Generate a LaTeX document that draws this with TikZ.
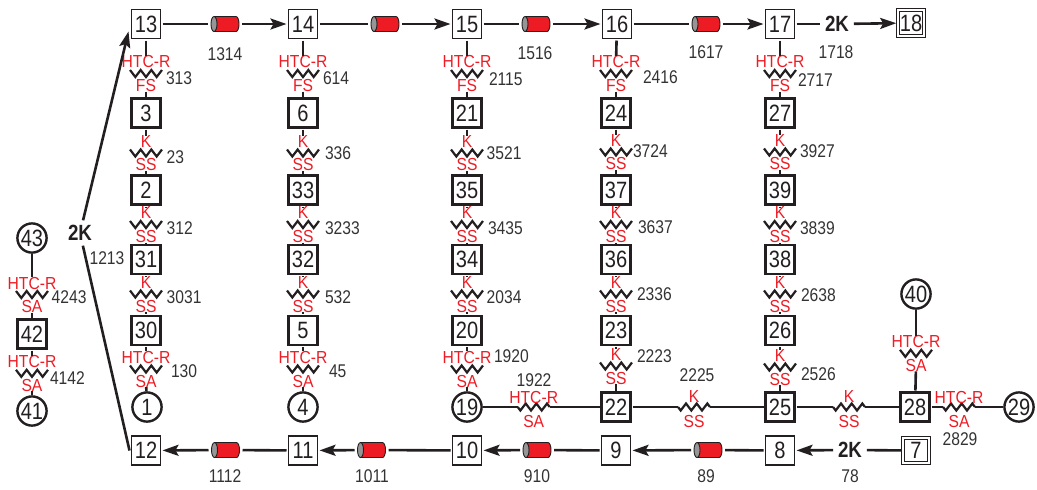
\documentclass[tikz,border=0pt]{standalone}
\usepackage{fontspec}
\setmainfont{Liberation Sans}[FakeStretch=0.85]
\newfontfamily\rlfont{Liberation Sans}[FakeStretch=0.9]
\usetikzlibrary{arrows.meta}
\definecolor{cred}{RGB}{237,28,36}
\definecolor{cdark}{RGB}{35,31,32}
\definecolor{cnum}{RGB}{51,51,51}
\definecolor{ccap}{RGB}{150,150,150}
\tikzset{
  every node/.style={inner sep=0pt, outer sep=0pt, text=cdark},
  tbox/.style={draw=cdark, line width=0.65pt, minimum size=14.5pt, font=\fontsize{11.8}{12}\selectfont, outer sep=1pt},
  kbox/.style={tbox, line width=1.4pt},
  dbox/.style={draw=cdark, double, double distance=1.1pt, line width=0.45pt, minimum size=12.8pt, font=\fontsize{11.8}{12}\selectfont, outer sep=1pt},
  circ/.style={circle, draw=cdark, line width=1.2pt, minimum size=14.6pt, font=\fontsize{11.8}{12}\selectfont, outer sep=0.5pt},
  conn/.style={draw=cdark, line width=1.3pt},
  arr/.style={conn, -{Stealth[length=8pt,width=5.5pt,inset=1.5pt]}},
  rl/.style={text=cred, font=\rlfont\fontsize{8.7}{9}\selectfont},
  num/.style={text=cnum, font=\fontsize{9.2}{10}\selectfont},
  kk/.style={font=\bfseries\fontsize{11}{12}\selectfont, outer sep=2.5pt},
  zig/.style={draw=cdark, line width=1.1pt},
  cylb/.style={minimum width=17pt, minimum height=7.5pt},
  cyledge/.style={draw=cdark, line width=0.45pt},
}
% vertical spring: name, x, zig y, top label, bottom label
\newcommand\vspr[5]{%
  \draw[zig] (#2-16,#3-3.5) -- ++(5.33,7) -- ++(5.33,-7) -- ++(5.33,7) -- ++(5.33,-7) -- ++(5.33,7) -- ++(5.33,-7);
  \node[rl] (#1t) at (#2,#3-11.5) {#4};
  \node[rl] (#1b) at (#2,#3+12) {#5};
}
% horizontal spring: name, x, line y, top label, bottom label
\newcommand\hspr[5]{%
  \coordinate (#1l) at (#2-16,#3);
  \coordinate (#1r) at (#2+16,#3);
  \draw[zig] (#1l) -- ++(2.67,3.5) -- ++(5.33,-7) -- ++(5.33,7) -- ++(5.33,-7) -- ++(5.33,7) -- ++(5.33,-7) -- (#1r);
  \node[rl] (#1t) at (#2,#3-10) {#4};
  \node[rl] (#1b) at (#2,#3+14) {#5};
}
% cylinder: name, x, y
\newcommand\mycyl[3]{%
  \begin{scope}[shift={(#2,#3)}]
    \node[cylb] (#1) at (0,0) {};
    \fill[cred] (11,0) ellipse (3 and 7.5);
    \fill[cred] (-11,-7.5) rectangle (11,7.5);
    \draw[cyledge] (-11,-7.5) -- (11,-7.5) arc (-90:90:3 and 7.5) -- (-11,7.5);
    \filldraw[fill=ccap, cyledge] (-11,0) ellipse (3 and 7.5);
  \end{scope}
}
\begin{document}
\begin{tikzpicture}[x=0.5pt, y=-0.5pt]
\useasboundingbox (0,0) rectangle (1037,489);

% ---- top row
\node[tbox] (n13) at (146,24) {13};
\node[tbox] (n14) at (303,24) {14};
\node[tbox] (n15) at (467,24) {15};
\node[tbox] (n16) at (617,24) {16};
\node[tbox] (n17) at (780,24) {17};
\node[dbox] (n18) at (911,23) {18};
\node[kk] (k1718) at (837,24) {2K};
\mycyl{c1314}{225}{24}
\mycyl{c1415}{385}{24}
\mycyl{c1516}{536}{24}
\mycyl{c1617}{706}{24}
\node[num] at (225,54) {1314};
\node[num] at (535,53) {1516};
\node[num] at (706,52) {1617};
\node[num] at (836,52) {1718};
\draw[conn] (n13) -- (c1314); \draw[arr] (c1314) -- (n14);
\draw[conn] (n14) -- (c1415); \draw[arr] (c1415) -- (n15);
\draw[conn] (n15) -- (c1516); \draw[arr] (c1516) -- (n16);
\draw[conn] (n16) -- (c1617); \draw[arr] (c1617) -- (n17);
\draw[conn] (n17) -- (k1718); \draw[arr] (k1718) -- (n18);

% ---- columns
\node[kbox] (n3) at (146,113) {3};
\node[kbox] (n2) at (146,190) {2};
\node[kbox] (n31) at (146,259.5) {31};
\node[kbox] (n30) at (146,330.5) {30};
\node[circ] (n1) at (147,407) {1};

\node[kbox] (n6) at (303,113) {6};
\node[kbox] (n33) at (303,190) {33};
\node[kbox] (n32) at (303,259.5) {32};
\node[kbox] (n5) at (303,330.5) {5};
\node[circ] (n4) at (303,407) {4};

\node[kbox] (n21) at (467,113) {21};
\node[kbox] (n35) at (467,190) {35};
\node[kbox] (n34) at (467,259.5) {34};
\node[kbox] (n20) at (467,330.5) {20};
\node[circ] (n19) at (467,407) {19};

\node[kbox] (n24) at (616,113) {24};
\node[kbox] (n37) at (616,190) {37};
\node[kbox] (n36) at (616,259.5) {36};
\node[kbox] (n23) at (616,330.5) {23};
\node[kbox] (n22) at (616,407) {22};

\node[kbox] (n27) at (780,113) {27};
\node[kbox] (n39) at (780,190) {39};
\node[kbox] (n38) at (780,259.5) {38};
\node[kbox] (n26) at (780,330.5) {26};
\node[kbox] (n25) at (780,407) {25};

\node[kbox] (n28) at (915,407) {28};
\node[circ] (n29) at (1019,407) {29};
\node[circ] (n40) at (916,294) {40};

\node[circ] (n43) at (32,238) {43};
\node[kbox] (n42) at (32,334) {42};
\node[circ] (n41) at (32,411) {41};

% springs col1
\vspr{s313}{146}{73.5}{HTC-R}{FS}
\vspr{s23}{146}{153}{K}{SS}
\vspr{s312}{146}{224.5}{K}{SS}
\vspr{s3031}{146}{294}{K}{SS}
\vspr{s130}{146}{369}{HTC-R}{SA}
\node[num, anchor=west] at (166,78) {313};
\node[num, anchor=west] at (166.7,157) {23};
\node[num, anchor=west] at (166.7,228.3) {312};
\node[num, anchor=west] at (166.7,296.7) {3031};
\node[num, anchor=west] at (171,370.7) {130};
% col2
\vspr{s614}{303}{73.5}{HTC-R}{FS}
\vspr{s336}{303}{153}{K}{SS}
\vspr{s3233}{303}{224.5}{K}{SS}
\vspr{s532}{303}{294}{K}{SS}
\vspr{s45}{303}{369}{HTC-R}{SA}
\node[num, anchor=west] at (323,78) {614};
\node[num, anchor=west] at (325,152.7) {336};
\node[num, anchor=west] at (325,228) {3233};
\node[num, anchor=west] at (325,296.7) {532};
\node[num, anchor=west] at (329,371.7) {45};
% col3
\vspr{s2115}{467}{73.5}{HTC-R}{FS}
\vspr{s3521}{467}{153}{K}{SS}
\vspr{s3435}{467}{224.5}{K}{SS}
\vspr{s2034}{467}{294}{K}{SS}
\vspr{s1920}{467}{369}{HTC-R}{SA}
\node[num, anchor=west] at (489,79) {2115};
\node[num, anchor=west] at (486.7,153) {3521};
\node[num, anchor=west] at (488,228) {3435};
\node[num, anchor=west] at (486.7,296.7) {2034};
\node[num, anchor=west] at (494,355.7) {1920};
% col4
\vspr{s2416}{616}{73.5}{HTC-R}{FS}
\vspr{s3724}{616}{152}{K}{SS}
\vspr{s3637}{616}{224.5}{K}{SS}
\vspr{s2336}{616}{294}{K}{SS}
\vspr{s2223}{616}{366}{K}{SS}
\node[num, anchor=west] at (643,77) {2416};
\node[num, anchor=west] at (633,151) {3724};
\node[num, anchor=west] at (638,226.7) {3637};
\node[num, anchor=west] at (637,294) {2336};
\node[num, anchor=west] at (637,355.7) {2223};
% col5
\vspr{s2717}{780}{73.5}{HTC-R}{FS}
\vspr{s3927}{780}{152}{K}{SS}
\vspr{s3839}{780}{224.5}{K}{SS}
\vspr{s2638}{780}{294}{K}{SS}
\vspr{s2526}{780}{367}{K}{SS}
\node[num, anchor=west] at (798,80) {2717};
\node[num, anchor=west] at (800,151) {3927};
\node[num, anchor=west] at (800,228) {3839};
\node[num, anchor=west] at (801,295) {2638};
\node[num, anchor=west] at (801,374) {2526};
% left and right extras
\vspr{s4243}{32}{294.5}{HTC-R}{SA}
\vspr{s4142}{32}{373.3}{HTC-R}{SA}
\vspr{s4028}{916}{353.3}{HTC-R}{SA}
\node[num, anchor=west] at (51.7,296.7) {4243};
\node[num, anchor=west] at (50,378) {4142};

% vertical connectors
\foreach \a/\s/\b in {n13/s313/n3, n3/s23/n2, n2/s312/n31, n31/s3031/n30, n30/s130/n1,
  n14/s614/n6, n6/s336/n33, n33/s3233/n32, n32/s532/n5, n5/s45/n4,
  n15/s2115/n21, n21/s3521/n35, n35/s3435/n34, n34/s2034/n20, n20/s1920/n19,
  n16/s2416/n24, n24/s3724/n37, n37/s3637/n36, n36/s2336/n23, n23/s2223/n22,
  n17/s2717/n27, n27/s3927/n39, n39/s3839/n38, n38/s2638/n26, n26/s2526/n25,
  n43/s4243/n42, n42/s4142/n41, n40/s4028/n28}{
  \draw[conn] (\a) -- (\s t);
  \draw[conn] (\s b) -- (\b);
}

% horizontal row
\hspr{s1922}{533.7}{407}{HTC-R}{SA}
\hspr{s2225}{694}{407}{K}{SS}
\hspr{s2528}{849}{407}{K}{SS}
\hspr{s2829}{959}{407}{HTC-R}{SA}
\node[num] at (534,380) {1922};
\node[num] at (697,375) {2225};
\node[num] at (960,439) {2829};
\draw[conn] (n19) -- (s1922l); \draw[conn] (s1922r) -- (n22);
\draw[conn] (n22) -- (s2225l); \draw[conn] (s2225r) -- (n25);
\draw[conn] (n25) -- (s2528l); \draw[conn] (s2528r) -- (n28);
\draw[conn] (n28) -- (s2829l); \draw[conn] (s2829r) -- (n29);

% ---- bottom row
\node[tbox] (n12) at (146,450.5) {12};
\node[tbox] (n11) at (303,450.5) {11};
\node[tbox] (n10) at (467,450.5) {10};
\node[tbox] (n9) at (616,450.5) {9};
\node[tbox] (n8) at (780,450.5) {8};
\node[dbox] (n7) at (916,450.5) {7};
\node[kk] (k78) at (850,450) {2K};
\mycyl{c1112}{225.5}{450}
\mycyl{c1011}{371.5}{450}
\mycyl{c910}{537}{450}
\mycyl{c89}{708}{450}
\node[num] at (225,476) {1112};
\node[num] at (372,476) {1011};
\node[num] at (537,476) {910};
\node[num] at (706,476) {89};
\node[num] at (850,476) {78};
\draw[conn] (n7) -- (k78); \draw[arr] (k78) -- (n8);
\draw[conn] (n8) -- (c89); \draw[arr] (c89) -- (n9);
\draw[conn] (n9) -- (c910); \draw[arr] (c910) -- (n10);
\draw[conn] (n10) -- (c1011); \draw[arr] (c1011) -- (n11);
\draw[conn] (n11) -- (c1112); \draw[arr] (c1112) -- (n12);

% ---- left return 12 -> 13
\node[kk] (k1213) at (80,233) {2K};
\node[num] at (107,258) {1213};
\coordinate (e13) at ([shift={(-1,-9)}]n13.south west);
\draw[conn] (n12.west) -- (k1213);
\draw[arr] (k1213) -- (e13);
\end{tikzpicture}
\end{document}
